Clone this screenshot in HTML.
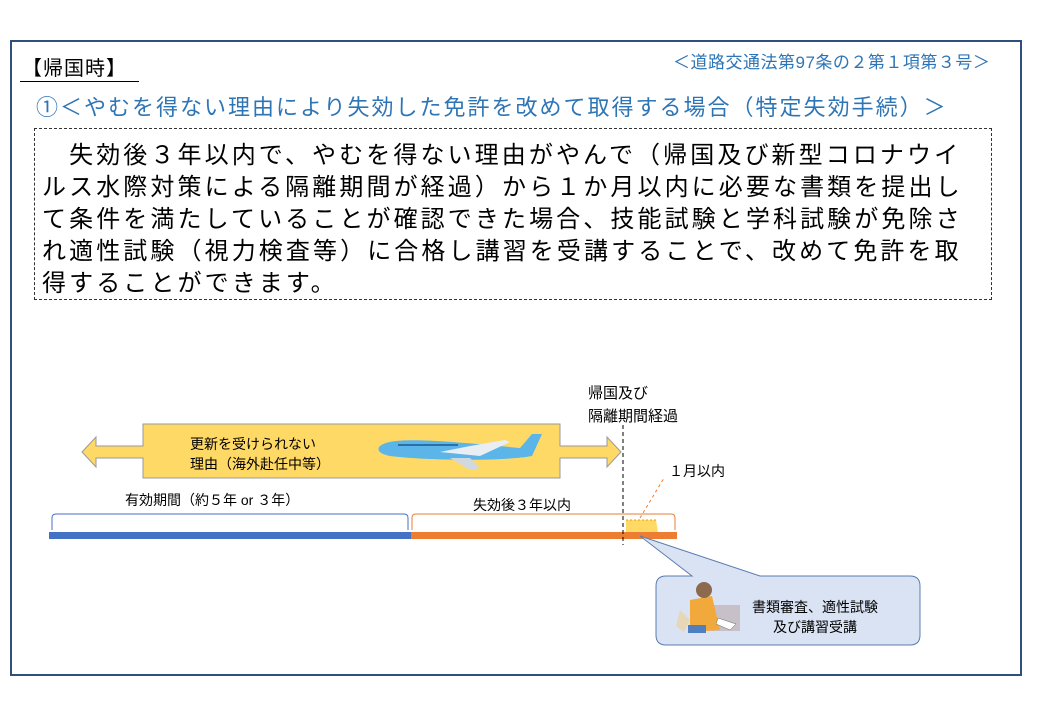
<!DOCTYPE html>
<html><head><meta charset="utf-8"><style>
*{margin:0;padding:0;box-sizing:border-box}
body{width:1040px;height:720px;background:#fff;position:relative;overflow:hidden;font-family:"Liberation Sans","Noto Sans CJK JP",sans-serif;color:#000}
.a{position:absolute;white-space:nowrap}
</style></head><body>
<div class="a" style="left:10px;top:40px;width:1012px;height:636px;border:2px solid #2F4F7F"></div>
<div class="a" style="left:22px;top:57px;font-size:20px;line-height:24px;letter-spacing:1px">【帰国時】</div>
<div class="a" style="left:20px;top:81px;width:119px;height:1px;background:#000"></div>
<div class="a" style="left:673px;top:52px;font-size:17px;line-height:22px;color:#2E75B6;letter-spacing:0.5px">＜道路交通法第97条の２第１項第３号＞</div>
<div class="a" style="left:36px;top:94px;font-size:22px;line-height:28px;color:#2E75B6;letter-spacing:2px">①＜やむを得ない理由により失効した免許を改めて取得する場合（特定失効手続）＞</div>
<div class="a" style="left:34px;top:128px;width:958px;height:172px;border:1px dashed #333"></div>
<div class="a" style="left:42px;top:140px;font-size:24px;line-height:32px;letter-spacing:3.1px">　失効後３年以内で、やむを得ない理由がやんで（帰国及び新型コロナウイ<br>ルス水際対策による隔離期間が経過）から１か月以内に必要な書類を提出し<br>て条件を満たしていることが確認できた場合、技能試験と学科試験が免除さ<br>れ適性試験（視力検査等）に合格し講習を受講することで、改めて免許を取<br>得することができます。</div>

<svg class="a" style="left:0;top:0" width="1040" height="720">
<path d="M82,452 L96,437 L96,446 L143,446 L143,424 L560,424 L560,446 L607,446 L607,437 L621,452 L607,467 L607,458 L560,458 L560,478 L143,478 L143,458 L96,458 L96,467 Z" fill="#FFD966" stroke="#999" stroke-width="1"/>
<g>
<path d="M380,446 C390,438 420,438 520,448 L532,434 L542,434 L532,456 C500,462 420,460 390,456 C380,454 376,450 380,446 Z" fill="#5BB5E8"/>
<path d="M440,452 L470,446 L505,440 L510,442 L480,456 Z" fill="#E8EEF4"/>
<path d="M450,458 L470,470 L480,468 L470,458 Z" fill="#D0D8E0"/>
<rect x="398" y="444" width="60" height="2" fill="#2A6FA8"/>
</g>
<rect x="49" y="532" width="362" height="7" fill="#4472C4"/>
<rect x="411" y="532" width="266" height="7" fill="#ED7D31"/>
<path d="M52,530 L52,518 Q52,514 56,514 L404,514 Q408,514 408,518 L408,530" fill="none" stroke="#4472C4" stroke-width="1"/>
<path d="M412,530 L412,518 Q412,514 416,514 L671,514 Q675,514 675,518 L675,530" fill="none" stroke="#ED7D31" stroke-width="1"/>
<path d="M626,532 L626,520 L656,520 L658,532 Z" fill="#FFD966"/>
<line x1="626" y1="520" x2="656" y2="520" stroke="#E8A000" stroke-dasharray="2,2"/>
<line x1="623" y1="425" x2="623" y2="545" stroke="#000" stroke-dasharray="4,3"/>
<line x1="640" y1="518" x2="664" y2="478" stroke="#ED7D31" stroke-dasharray="3,3"/>
<path d="M666,576 L692,576 L640,536 L760,576 L910,576 Q920,576 920,586 L920,635 Q920,645 910,645 L666,645 Q656,645 656,635 L656,586 Q656,576 666,576 Z" fill="#DAE3F3" stroke="#5B7DB0" stroke-width="1"/>
<g>
<rect x="700" y="605" width="40" height="26" fill="#C8C0C8"/>
<path d="M690,600 L712,596 L720,630 L690,632 Z" fill="#F2A93B"/>
<circle cx="704" cy="590" r="8" fill="#8B6A4E"/>
<path d="M680,610 L690,620 L684,632 L676,626 Z" fill="#E6D7B8"/>
<rect x="688" y="625" width="18" height="8" fill="#4F7FC0"/>
<path d="M718,618 L736,624 L730,630 L716,624 Z" fill="#fff" stroke="#666" stroke-width="0.5"/>
</g>
</svg>
<div class="a" style="left:190px;top:434px;font-size:14px;line-height:20px">更新を受けられない<br>理由（海外赴任中等）</div>
<div class="a" style="left:125px;top:491px;font-size:14px;line-height:18px">有効期間（約５年 or ３年）</div>
<div class="a" style="left:473px;top:496px;font-size:14px;line-height:18px">失効後３年以内</div>
<div class="a" style="left:588px;top:382px;font-size:15px;line-height:23px">帰国及び<br>隔離期間経過</div>
<div class="a" style="left:669px;top:462px;font-size:14px;line-height:18px">１月以内</div>
<div class="a" style="left:752px;top:597px;font-size:14px;line-height:20px;text-align:center">書類審査、適性試験<br>及び講習受講</div>
</body></html>
